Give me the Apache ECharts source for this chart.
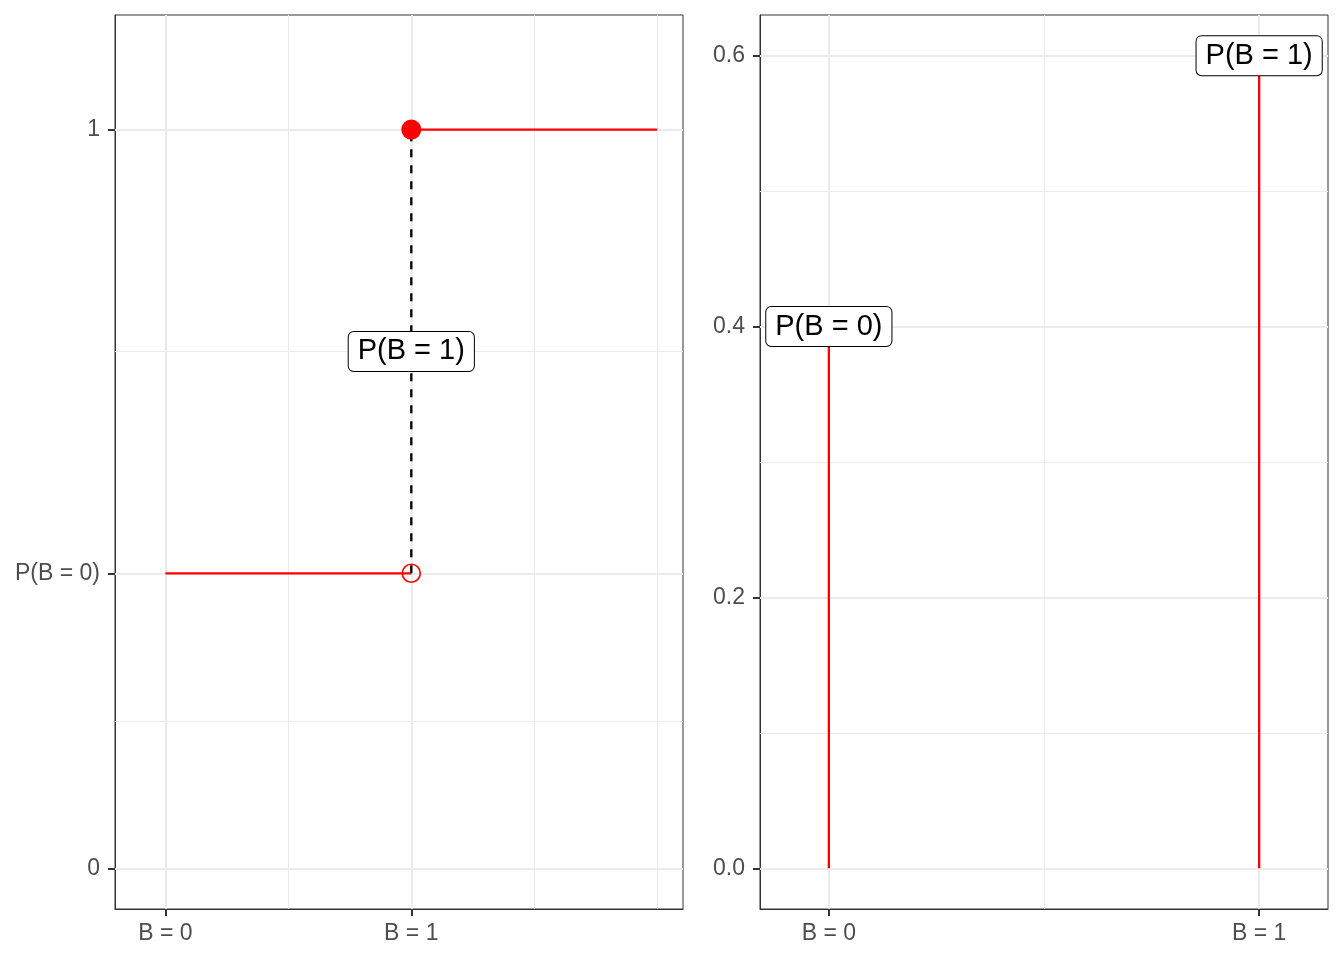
<!DOCTYPE html>
<html>
<head>
<meta charset="utf-8">
<script src="https://cdn.jsdelivr.net/npm/echarts@6/dist/echarts.min.js"></script>
<style>
html,body{margin:0;padding:0;background:#fff;}
#chart{width:1344px;height:960px;}
</style>
</head>
<body>
<div id="chart"></div>
<script>
// ---- data ----
const pB0 = 0.4;
const pB1 = 0.6;
const xTicks = [0, 1];
const xTickLabels = ['B = 0', 'B = 1'];
// left panel (CDF)
const leftYTicks = [0, pB0, 1];
const leftYTickLabels = ['0', 'P(B = 0)', '1'];
const leftYMinor = [0.2, 0.7];
const leftXMinor = [0.5, 1.5, 2];
const cdfLow = [[0, pB0], [1, pB0]];
const cdfHigh = [[1, 1], [2, 1]];
const jumpLine = [[1, pB0], [1, 1]];
const openPoint = [[1, pB0]];
const closedPoint = [[1, 1]];
const leftLabel = [[1, 0.7, 'P(B = 1)']];
// right panel (PMF)
const rightYTicks = [0, 0.2, 0.4, 0.6];
const rightYTickLabels = ['0.0', '0.2', '0.4', '0.6'];
const rightYMinor = [0.1, 0.3, 0.5];
const rightXMinor = [0.5];
const pmfStem0 = [[0, 0], [0, pB0]];
const pmfStem1 = [[1, 0], [1, pB1]];
const rightLabels = [[0, pB0, 'P(B = 0)'], [1, pB1, 'P(B = 1)']];

const FONT = 'Liberation Sans, Arial, Helvetica, sans-serif';
const RED = '#FF0000';

function gridLines(ai, xs, ys, width) {
  return {
    type: 'line', xAxisIndex: ai, yAxisIndex: ai, data: [], silent: true, z: 1,
    markLine: {
      silent: true, z: 1, zlevel: 0, symbol: ['none', 'none'], label: {show: false}, animation: false,
      lineStyle: {color: '#EBEBEB', width: width, type: 'solid', opacity: 1},
      emphasis: {disabled: true},
      data: xs.map(v => ({xAxis: v})).concat(ys.map(v => ({yAxis: v})))
    }
  };
}
function seg(ai, data, color, dashed) {
  return {
    type: 'line', xAxisIndex: ai, yAxisIndex: ai, data: data, symbol: 'none', z: 3,
    lineStyle: {color: color, width: 2.3, type: dashed ? [8, 8] : 'solid', opacity: 1},
    emphasis: {disabled: true}, silent: true
  };
}
function labels(ai, data) {
  return {
    type: 'scatter', xAxisIndex: ai, yAxisIndex: ai, data: data, symbolSize: 0, z: 10,
    silent: true,
    label: {
      show: true, position: 'inside', formatter: p => p.data[2],
      fontFamily: FONT, fontSize: 29, lineHeight: 29, color: '#000', opacity: 1,
      textBorderWidth: 0,
      backgroundColor: '#fff', borderColor: '#000', borderWidth: 1, borderRadius: 5,
      padding: [6, 9, 4, 9]
    }
  };
}
function xAxis(gi, min, max) {
  return {
    type: 'value', gridIndex: gi, min: min, max: max,
    axisLine: {show: true, onZero: false, lineStyle: {color: '#333', width: 1}},
    splitLine: {show: false},
    axisTick: {show: true, customValues: xTicks, length: 7, lineStyle: {color: '#333', width: 2}},
    axisLabel: {customValues: xTicks, formatter: v => xTickLabels[xTicks.indexOf(v)],
      color: '#4D4D4D', fontSize: 23, fontFamily: FONT, margin: 13}
  };
}
function yAxis(gi, min, max, ticks, tickLabels) {
  return {
    type: 'value', gridIndex: gi, min: min, max: max,
    axisLine: {show: true, onZero: false, lineStyle: {color: '#333', width: 1}},
    splitLine: {show: false},
    axisTick: {show: true, customValues: ticks, length: 7, lineStyle: {color: '#333', width: 2}},
    axisLabel: {customValues: ticks, formatter: v => tickLabels[ticks.indexOf(v)],
      color: '#4D4D4D', fontSize: 23, fontFamily: FONT, margin: 15}
  };
}

const chart = echarts.init(document.getElementById('chart'));
chart.setOption({
  animation: false,
  backgroundColor: '#fff',
  grid: [
    {left: 115, top: 15, width: 568, height: 894, show: true, borderColor: '#333', borderWidth: 1, backgroundColor: 'transparent'},
    {left: 760, top: 15, width: 568, height: 894, show: true, borderColor: '#333', borderWidth: 1, backgroundColor: 'transparent'}
  ],
  xAxis: [xAxis(0, -0.205, 2.105), xAxis(1, -0.16, 1.16)],
  yAxis: [
    yAxis(0, -0.054, 1.155, leftYTicks, leftYTickLabels),
    yAxis(1, -0.03, 0.63, rightYTicks, rightYTickLabels)
  ],
  series: [
    gridLines(0, leftXMinor, leftYMinor, 1),
    gridLines(0, xTicks, leftYTicks, 2),
    gridLines(1, rightXMinor, rightYMinor, 1),
    gridLines(1, xTicks, rightYTicks, 2),
    seg(0, cdfLow, RED, false),
    seg(0, cdfHigh, RED, false),
    seg(0, jumpLine, '#000', true),
    {type: 'scatter', xAxisIndex: 0, yAxisIndex: 0, data: openPoint, symbol: 'circle', symbolSize: 18, z: 4, silent: true,
      itemStyle: {color: 'rgba(0,0,0,0)', borderColor: RED, borderWidth: 1.6, opacity: 1}},
    {type: 'scatter', xAxisIndex: 0, yAxisIndex: 0, data: closedPoint, symbol: 'circle', symbolSize: 20, z: 4, silent: true,
      itemStyle: {color: RED, opacity: 1}},
    labels(0, leftLabel),
    seg(1, pmfStem0, RED, false),
    seg(1, pmfStem1, RED, false),
    labels(1, rightLabels)
  ]
});
</script>
</body>
</html>
